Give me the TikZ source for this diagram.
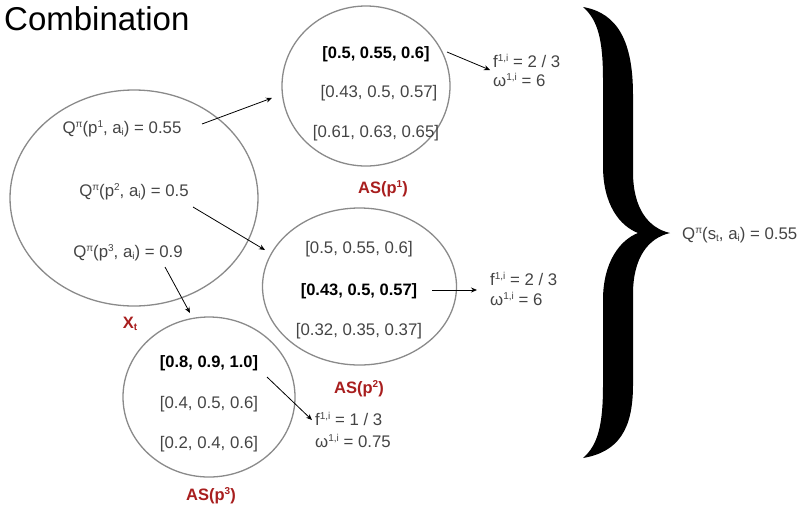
\documentclass[tikz,border=0pt]{standalone}
\usepackage{fontspec}
\setmainfont{Liberation Sans}
\usetikzlibrary{shapes.geometric,arrows.meta}
\definecolor{txtc}{HTML}{444444}
\definecolor{ringc}{HTML}{8A8A8A}
\definecolor{labc}{HTML}{A81E1E}
\newcommand{\sps}[1]{\raisebox{6pt}{\fontsize{10}{10}\selectfont #1}}
\newcommand{\sbs}[1]{\raisebox{-2pt}{\fontsize{10}{10}\selectfont #1}}
\begin{document}
\begin{tikzpicture}[x=1pt,y=-1pt,
  ringst/.style={ellipse, draw=ringc, line width=1.3pt, inner sep=0},
  txt/.style={text=txtc, font=\fontsize{16.8}{18}\selectfont, inner sep=0, anchor=base},
  btxt/.style={text=black, font=\fontsize{16.5}{18}\selectfont\bfseries, inner sep=0, anchor=base},
  lbl/.style={text=labc, font=\fontsize{16.5}{18}\selectfont\bfseries, inner sep=0, anchor=base},
  ftxt/.style={text=txtc, font=\fontsize{16.8}{18}\selectfont, inner sep=0, anchor=base west},
  arr/.style={-{Stealth[length=6pt,width=5pt]}, line width=0.8pt}]
\useasboundingbox (0,0) rectangle (805,507);

% title
\node[font=\fontsize{33}{36}\selectfont, anchor=base west, inner sep=0] (title) at (4,30) {Combination};

% X_t
\node[ringst, minimum width=248pt, minimum height=216pt] (X) at (134,198) {};
\node[txt] (q1) at (122,133) {Q\sps{π}(p\sps{1}, a\sbs{i}) = 0.55};
\node[txt] (q2) at (134,196) {Q\sps{π}(p\sps{2}, a\sbs{i}) = 0.5};
\node[txt] (q3) at (128,257) {Q\sps{π}(p\sps{3}, a\sbs{i}) = 0.9};
\node[lbl] (xl) at (130,328) {X\sbs{t}};

% AS(p1)
\node[ringst, minimum width=168pt, minimum height=160pt] (A1) at (366,86) {};
\node[btxt] (a11) at (376,58) {[0.5, 0.55, 0.6]};
\node[txt] (a12) at (379,97) {[0.43, 0.5, 0.57]};
\node[txt] (a13) at (376,137) {[0.61, 0.63, 0.65]};
\node[lbl] (l1) at (383,193) {AS(p\sps{1})};
\node[ftxt] (f1) at (493,67) {f\sps{1,i} = 2 / 3};
\node[ftxt] (w1) at (493,86) {ω\sps{1,i} = 6};

% AS(p2)
\node[ringst, minimum width=194pt, minimum height=157pt] (A2) at (359.5,286.5) {};
\node[txt] (a21) at (359,253) {[0.5, 0.55, 0.6]};
\node[btxt] (a22) at (359,295) {[0.43, 0.5, 0.57]};
\node[txt] (a23) at (359,335) {[0.32, 0.35, 0.37]};
\node[lbl] (l2) at (359,393) {AS(p\sps{2})};
\node[ftxt] (f2) at (490,285) {f\sps{1,i} = 2 / 3};
\node[ftxt] (w2) at (490,305) {ω\sps{1,i} = 6};

% AS(p3)
\node[ringst, minimum width=172pt, minimum height=160pt] (A3) at (209,397) {};
\node[btxt] (a31) at (209,367) {[0.8, 0.9, 1.0]};
\node[txt] (a32) at (209,408) {[0.4, 0.5, 0.6]};
\node[txt] (a33) at (209,448) {[0.2, 0.4, 0.6]};
\node[lbl] (l3) at (211,500) {AS(p\sps{3})};
\node[ftxt] (f3) at (315,425) {f\sps{1,i} = 1 / 3};
\node[ftxt] (w3) at (315,447) {ω\sps{1,i} = 0.75};

% arrows
\coordinate (s1) at (202,124);  \coordinate (e1) at (272,98);
\coordinate (s2) at (193,207);  \coordinate (e2) at (265,250);
\coordinate (s3) at (165,267);  \coordinate (e3) at (190,313);
\coordinate (s4) at (447,52);   \coordinate (e4) at (490,70);
\coordinate (s5) at (432,290);  \coordinate (e5) at (477,290);
\coordinate (s6) at (267,377);  \coordinate (e6) at (312,420);
\draw[arr] (s1) -- (e1);
\draw[arr] (s2) -- (e2);
\draw[arr] (s3) -- (e3);
\draw[arr] (s4) -- (e4);
\draw[arr] (s5) -- (e5);
\draw[arr] (s6) -- (e6);

% brace
\fill[black] (583,7) .. controls (618,13) and (633,42) .. (633,95)
  -- (633,172) .. controls (633,208) and (648,228) .. (670,233)
  .. controls (648,238) and (633,258) .. (633,294)
  -- (633,385) .. controls (633,430) and (618,452) .. (583,458)
  .. controls (598,445) and (603,425) .. (603,385)
  -- (603,300) .. controls (603,262) and (620,240) .. (638,233)
  .. controls (620,226) and (603,205) .. (603,166)
  -- (603,80) .. controls (603,40) and (598,20) .. (583,7) -- cycle;
\node[ftxt] (res) at (682,239) {Q\sps{π}(s\sbs{t}, a\sbs{i}) = 0.55};
\end{tikzpicture}
\end{document}
